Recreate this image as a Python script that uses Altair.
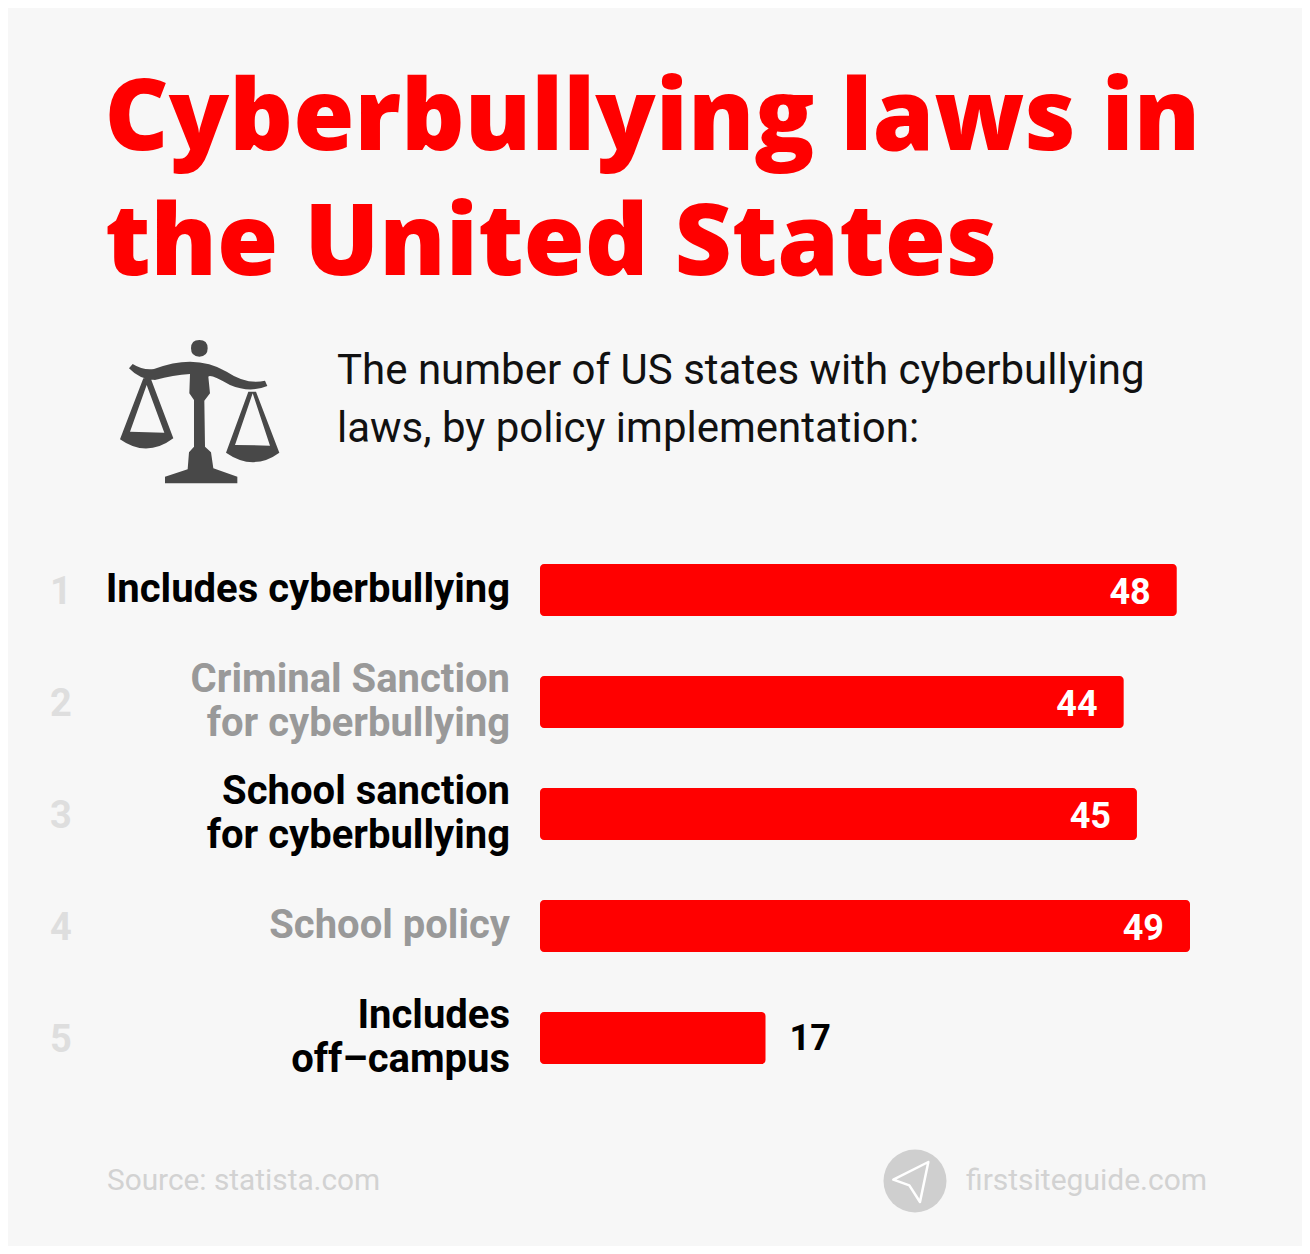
import re
import altair as alt
import pandas as pd

ranks = [1, 2, 3, 4, 5]
categories = [["Includes cyberbullying"], ["Criminal Sanction", "for cyberbullying"],
              ["School sanction", "for cyberbullying"], ["School policy"], ["Includes", "off\u2013campus"]]
values = [48, 44, 45, 49, 17]
label_colors = ["#000000", "#999999", "#000000", "#999999", "#000000"]

TITLE_LINES = ["Cyberbullying laws in", "the United States"]
SUB_LINES = ["The number of US states with cyberbullying", "laws, by policy implementation:"]
SOURCE = "Source: statista.com"
SITE = "firstsiteguide.com"

BG = "#f7f7f7"
RED = "#ff0000"
OFF = 8  # page margin
ROW_PX = 112
LINE_PX = 44


def norm(path, cx, cy, r):
    nums = iter(range(10 ** 6))
    def sub(m):
        i = next(nums)
        v = float(m.group(0))
        return f"{(v - cx) / r:.4f}" if i % 2 == 0 else f"{(v - cy) / r:.4f}"
    return re.sub(r"-?\d+(?:\.\d+)?", sub, path)


SCALES = (
    "M57 115 L68 102 Q100 122 132 117 Q190 95 240 95 Q300 95 350 125 Q410 165 465 152 L472 168 "
    "Q420 190 360 165 Q300 130 295 140 L300 190 L283 212 L285 350 L303 367 L310 415 L382 440 L382 460 "
    "L165 460 L165 440 L233 418 L237 367 L252 350 L252 210 L238 190 L240 132 Q190 135 135 150 Q90 150 57 115 Z "
    "M100 145 L122 145 L190 325 Q110 385 30 328 Z M110 165 L60 305 L163 308 Z "
    "M415 185 L438 185 L508 368 Q430 425 348 368 Z M428 190 L375 345 L480 347 Z "
    "M243 55 Q243 30 268 30 Q293 30 293 55 Q293 80 268 80 Q243 80 243 55 Z"
)
PLANE = "M175 65 L70 118 L118 135 L150 185 Z"

one = alt.Data(values=[{"a": 1}])


def txt(text, x, y, size, color, weight="normal", font="Roboto", align="left"):
    return alt.Chart(one).mark_text(
        text=text, x=x - OFF, y=y - OFF, fontSize=size, color=color, fontWeight=weight,
        font=font, align=align, baseline="alphabetic")


df = pd.DataFrame({"rank": ranks, "value": values})
df["inside"] = df["value"] > 20

line_rows = []
for r, lines, c in zip(ranks, categories, label_colors):
    for i, line in enumerate(lines):
        shift = (i - (len(lines) - 1) / 2) * LINE_PX / ROW_PX
        line_rows.append({"pos": r + shift, "line": line, "color": c})
lines_df = pd.DataFrame(line_rows)

xs = alt.Scale(domain=[0, 49], range=[540 - OFF, 1190 - OFF])
ys = alt.Scale(domain=[1, 5], range=[590 - OFF, 1038 - OFF], padding=0)
X = alt.X("value:Q", scale=xs, axis=None)
Y = alt.Y("rank:Q", scale=ys, axis=None)
base = alt.Chart(df)

bars = base.mark_bar(color=RED, size=52, cornerRadius=4, orient="horizontal").encode(
    x=alt.X("value:Q", scale=xs, axis=None, stack=None), y=Y)

vals_in = base.transform_filter("datum.inside").mark_text(
    font="Roboto", fontWeight="bold", fontSize=36, color="#ffffff", align="right", baseline="middle",
    dx=-26, dy=3).encode(x=X, y=Y, text="value:Q")
vals_out = base.transform_filter("!datum.inside").mark_text(
    font="Roboto", fontWeight="bold", fontSize=36, color="#000000", align="left", baseline="middle",
    dx=24, dy=1).encode(x=X, y=Y, text="value:Q")

labels = alt.Chart(lines_df).mark_text(
    font="Roboto", fontWeight="bold", fontSize=40, align="right", baseline="middle"
).encode(x=alt.value(510 - OFF), y=alt.Y("pos:Q", scale=ys, axis=None), text="line:N",
         color=alt.Color("color:N", scale=None))

rank_text = base.mark_text(
    font="Roboto", fontWeight="bold", fontSize=38, color="#dedede", align="center", baseline="middle",
    dy=2.5
).encode(x=alt.value(61 - OFF), y=Y, text="rank:Q")

icon = alt.Chart(one).mark_point(
    shape=norm(SCALES, 270, 247, 270), size=(2 * 90) ** 2, filled=True, color="#484848", opacity=1,
    x=200 - OFF, y=412.3 - OFF)

logo_circle = alt.Chart(one).mark_circle(size=63 ** 2, color="#cfcfcf", opacity=1, x=915 - OFF, y=1181 - OFF)
logo_plane = alt.Chart(one).mark_point(
    shape=norm(PLANE, 135, 122, 135), size=90 ** 2, filled=False, stroke="#ffffff", strokeWidth=2.5,
    opacity=1, strokeJoin="round", x=915 - OFF, y=1181 - OFF)

TF = "Open Sans"
chart = alt.layer(
    txt(TITLE_LINES[0], 104.5, 150, 99.2, RED, 800, TF),
    txt(TITLE_LINES[1], 105, 275, 99.2, RED, 800, TF),
    icon,
    txt(SUB_LINES[0], 337, 384, 42, "#111111"),
    txt(SUB_LINES[1], 337, 442, 42, "#111111"),
    bars, vals_in, vals_out, labels, rank_text,
    txt(SOURCE, 107, 1190, 29.8, "#d2d2d2"),
    logo_circle, logo_plane,
    txt(SITE, 966, 1190, 30, "#d2d2d2"),
).properties(
    width=1310 - 2 * OFF, height=1254 - 2 * OFF, background=BG, padding=0,
    autosize=alt.AutoSizeParams(type="none"),
).configure_view(stroke=None)

chart.save("out.html", embed_options={"renderer": "svg", "actions": False})
